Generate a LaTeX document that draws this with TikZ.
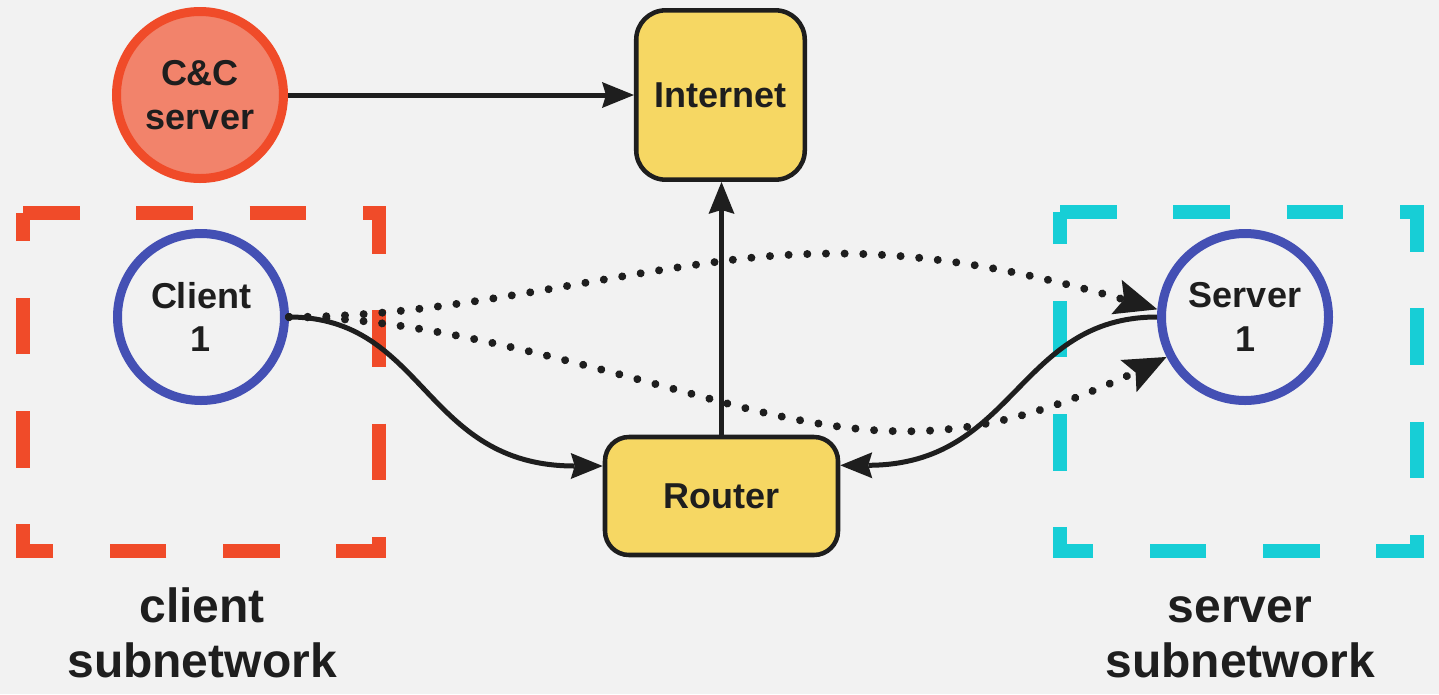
\documentclass[tikz,border=0pt]{standalone}
\usepackage{fontspec}
\setmainfont{Liberation Sans}
\usetikzlibrary{arrows.meta, decorations.markings}

\definecolor{bg}{HTML}{F2F2F2}
\definecolor{ink}{HTML}{1E1E1E}
\definecolor{ccfill}{HTML}{F2836B}
\definecolor{ccline}{HTML}{F04B29}
\definecolor{hostline}{HTML}{4450B4}
\definecolor{boxfill}{HTML}{F6D763}
\definecolor{subred}{HTML}{F04B29}
\definecolor{subcyan}{HTML}{17CED6}

\tikzset{
  every node/.style={font=\bfseries\fontsize{27pt}{32.5pt}\selectfont,
    text=ink, align=center, inner sep=0pt},
  ccnode/.style={circle, draw=ccline, fill=ccfill, line width=6.75pt, minimum size=125.25pt},
  host/.style={circle, draw=hostline, fill=bg, line width=6.75pt, minimum size=125.25pt},
  device/.style={draw=ink, fill=boxfill, line width=3.4pt},
  link/.style={draw=ink, line width=3.75pt,
    -{Stealth[length=24pt, width=19.5pt, inset=3pt, line width=0pt]}},
  % dotted connector: one round dot per 14pt, solid arrow head at the end
  probe/.style={draw=ink, line width=6pt, line cap=round, dash pattern=on 0pt off 3000pt,
    -{Stealth[length=32pt, width=27pt, inset=6pt, line width=0pt]},
    postaction={decorate, decoration={markings,
      mark=between positions 0 and -26pt step 14pt with {\fill[ink] (0,0) circle (3pt);}}}},
  subnet/.style={line width=10.5pt, dash pattern=on 42.5pt off 42.5pt},
  sublabel/.style={font=\bfseries\fontsize{36pt}{41.25pt}\selectfont, anchor=south}
}

\begin{document}
\begin{tikzpicture}[x=0.75pt, y=-0.75pt]
  % canvas
  \fill[bg] (0,0) rectangle (1439,694);
  \useasboundingbox (0,0) rectangle (1439,694);

  % subnetwork frames (drawn clockwise from the top-left corner)
  \draw[subnet, draw=subred]  (23,213) -- (379,213) -- (379,551) -- (23,551) -- cycle;
  \draw[subnet, draw=subcyan] (1060,212) -- (1417,212) -- (1417,551) -- (1060,551) -- cycle;

  % hosts and devices
  \node[ccnode] (cc)  at (200,95)  {C\&C\\server};
  \node[device, rounded corners=22pt, minimum width=126.4pt, minimum height=127pt]
        (inet) at (720.5,95) {Internet};
  \node[device, rounded corners=18pt, minimum width=174.75pt, minimum height=88.5pt]
        (rt) at (721.5,496) {Router};
  \node[host] (cl)  at (201,317)  {Client\\1};
  \node[host] (srv) at (1245,317) {Server\\1};

  % subnetwork captions (bottom edge on the last baseline)
  \node[sublabel] (cllab)  at (202,678)  {client\\subnetwork};
  \node[sublabel] (srvlab) at (1240,678) {server\\subnetwork};

  % waypoints of the dotted probes
  \coordinate (up)  at (723,261);
  \coordinate (low) at (718,401);

  % links
  \draw[link] (cc.east) -- (inet.west);
  \draw[link] (rt.north) -- (rt.north |- inet.south);
  \draw[link] (cl.east) .. controls (426,317) and (423,466) .. ([yshift=22.5pt]rt.west);
  \draw[link] (srv.west) .. controls (1017,317) and (1016,465) .. ([yshift=23pt]rt.east);

  % dotted probes from the client to the server
  \draw[probe] (cl.east) .. controls (440,317) and (573,280.5) .. (up)
               .. controls (873,241.5) and (997,261) .. (srv.175);
  \draw[probe] (cl.east) .. controls (420,317) and (568,360.5) .. (low)
               .. controls (898,449.6) and (995,443) .. (srv.207);
\end{tikzpicture}
\end{document}
